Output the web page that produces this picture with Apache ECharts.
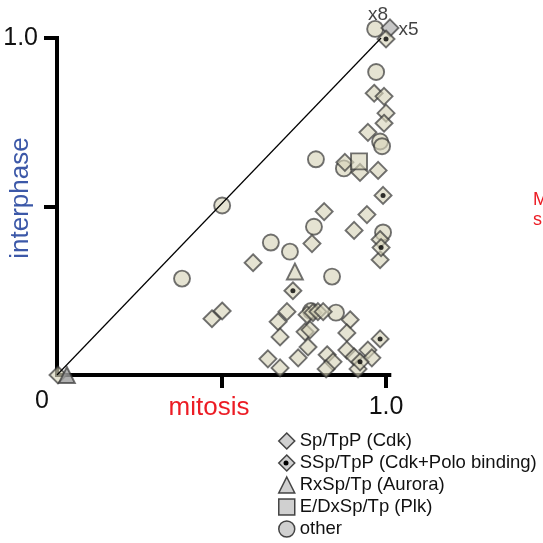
<!DOCTYPE html>
<html><head><meta charset="utf-8">
<script src="https://cdn.jsdelivr.net/npm/echarts@6/dist/echarts.min.js"></script>
<style>html,body{margin:0;padding:0;background:#fff}#c{width:543px;height:543px}</style>
</head><body><div id="c"></div>
<script>
// ---- data (x = mitosis, y = interphase) ----
const seriesNames = ['Sp/TpP (Cdk)', 'SSp/TpP (Cdk+Polo binding)', 'RxSp/Tp (Aurora)', 'E/DxSp/Tp (Plk)', 'other'];
const cdkPoints = [
  [0.964,0.836],[0.994,0.827],[1.000,0.777],[0.994,0.747],[0.945,0.720],
  [0.875,0.631],[0.921,0.601],[0.976,0.607],[0.812,0.485],[0.942,0.476],
  [0.903,0.429],[0.775,0.390],[0.982,0.402],[0.982,0.342],[0.596,0.333],
  [0.502,0.190],[0.471,0.167],[0.699,0.188],[0.760,0.179],[0.778,0.185],
  [0.793,0.188],[0.809,0.188],[0.891,0.164],[0.672,0.158],[0.678,0.113],
  [0.754,0.128],[0.769,0.134],[0.881,0.125],[0.763,0.083],[0.641,0.048],
  [0.678,0.021],[0.733,0.051],[0.821,0.060],[0.839,0.039],[0.818,0.018],
  [0.881,0.074],[0.903,0.054],[0.945,0.074],[0.957,0.051],[0.915,0.018],
  [0.003,0.000]
];
const cdkPoloPoints = [[1.000,0.997],[0.991,0.533],[0.985,0.378],[0.717,0.250],[0.982,0.107],[0.921,0.039]];
const auroraPoints = [[0.723,0.307]];
const auroraOrigin = [0.030,0.000];
const plkPoints = [[0.918,0.634]];
const otherPoints = [
  [0.970,0.899],[0.982,0.693],[0.988,0.679],[0.787,0.640],[0.872,0.613],
  [0.781,0.440],[0.991,0.423],[0.708,0.366],[0.650,0.393],[0.836,0.292],
  [0.502,0.503],[0.380,0.286],[0.772,0.190],[0.848,0.185]
];
// stacked (multiple identical) points with their counts
const otherStack = [0.967,1.027];
const otherStackLabel = 'x8';
const cdkStack = [1.012,1.030];
const cdkStackLabel = 'x5';
const diagonal = [[0,0],[0.985,1.0]];
const axisTickValues = [0.5, 1.0];
const axisLabelValues = [1.0];
const originLabel = '0';
const xTitle = 'mitosis';
const yTitle = 'interphase';
const sideNote = ['M', 'sp'];

// ---- styles ----
const FONT = '"Liberation Sans", Arial, Helvetica, sans-serif';
const fill = 'rgba(214,211,184,0.8)';
const stroke = 'rgba(50,50,50,0.85)';
const mk = {color: fill, borderColor: stroke, borderWidth: 1.9};
const icons = ['diamond','diamond','triangle','rect','circle'];

const chart = echarts.init(document.getElementById('c'), null, {renderer:'canvas'});
chart.setOption({
  animation: false,
  backgroundColor: '#fff',
  grid: {left: 57, top: 38, right: 153.7, bottom: 168, containLabel: false},
  xAxis: {
    type: 'value', min: 0, max: 1.01, interval: 0.5,
    splitLine: {show: false},
    axisLine: {show: true, onZero: false, lineStyle: {color: '#000', width: 4, cap: 'square'}},
    axisTick: {show: true, customValues: axisTickValues, length: 13, lineStyle: {color: '#000', width: 4}},
    axisLabel: {customValues: axisLabelValues, formatter: v => v.toFixed(1), fontSize: 25, color: '#111', margin: 20, fontFamily: FONT}
  },
  yAxis: {
    type: 'value', min: 0, max: 1, interval: 0.5,
    splitLine: {show: false},
    axisLine: {show: true, onZero: false, lineStyle: {color: '#000', width: 4, cap: 'square'}},
    axisTick: {show: true, customValues: axisTickValues, length: 13, lineStyle: {color: '#000', width: 4}},
    axisLabel: {customValues: axisLabelValues, formatter: v => v.toFixed(1), fontSize: 25, color: '#111', margin: 19, padding: [4, 0, 0, 0], fontFamily: FONT}
  },
  legend: {
    orient: 'vertical', left: 278, top: 430, padding: 0, height: 113,
    itemWidth: 16, itemHeight: 16, itemGap: 0,
    selectedMode: false,
    textStyle: {fontSize: 18.5, lineHeight: 22, color: '#111', fontFamily: FONT},
    data: seriesNames.map((n, i) => ({name: n, icon: icons[i], itemStyle: {color: '#c4c4c4', borderColor: '#1a1a1a', borderWidth: 1.5}}))
  },
  series: [
    {name: seriesNames[4], type: 'scatter', symbol: 'circle', symbolSize: 16, clip: false, itemStyle: mk,
     data: otherPoints.concat([{value: otherStack, label: {show: true, formatter: otherStackLabel, position: 'top', distance: -4, offset: [3, 0], fontSize: 19, color: '#111', fontFamily: FONT}}])},
    {name: seriesNames[0], type: 'scatter', symbol: 'diamond', symbolSize: 17, clip: false, itemStyle: mk,
     data: cdkPoints.concat([{value: cdkStack, itemStyle: {color: '#b9b9b9'}, label: {show: true, formatter: cdkStackLabel, position: 'right', distance: 0, offset: [-1, 2], fontSize: 19, color: '#111', fontFamily: FONT}}])},
    {name: seriesNames[1], type: 'scatter', symbol: 'diamond', symbolSize: 17, clip: false, itemStyle: mk, data: cdkPoloPoints},
    {name: seriesNames[1] + ' dot', type: 'scatter', symbol: 'circle', symbolSize: 5, clip: false, z: 4, silent: true,
     itemStyle: {color: '#000'}, data: cdkPoloPoints},
    {name: seriesNames[2], type: 'scatter', symbol: 'triangle', symbolSize: 16, clip: false, itemStyle: mk,
     data: auroraPoints.concat([{value: auroraOrigin, itemStyle: {color: '#9c9c9c'}}])},
    {name: seriesNames[3], type: 'scatter', symbol: 'rect', symbolSize: 16, clip: false, itemStyle: mk, data: plkPoints},
    {name: 'diagonal', type: 'line', data: diagonal, symbol: 'none', z: 5, silent: true,
     lineStyle: {color: '#000', width: 1.2}}
  ],
  graphic: [
    {type: 'text', x: 42, y: 401, style: {text: originLabel, font: '25px ' + FONT, fill: '#111', align: 'center', verticalAlign: 'middle'}},
    {type: 'text', x: 209, y: 408, style: {text: xTitle, font: '26px ' + FONT, fill: '#ec1c24', align: 'center', verticalAlign: 'middle'}},
    {type: 'text', x: 21, y: 198, rotation: Math.PI / 2, style: {text: yTitle, font: '26px ' + FONT, fill: '#3c58a8', align: 'center', verticalAlign: 'middle'}},
    {type: 'text', x: 533, y: 200, style: {text: sideNote[0], font: '18px ' + FONT, fill: '#ec1c24', align: 'left', verticalAlign: 'middle'}},
    {type: 'text', x: 533, y: 220, style: {text: sideNote[1], font: '18px ' + FONT, fill: '#ec1c24', align: 'left', verticalAlign: 'middle'}},
    {type: 'circle', shape: {cx: 286, cy: 463, r: 2.5}, style: {fill: '#000'}, z: 100}
  ]
});
</script>
</body></html>
